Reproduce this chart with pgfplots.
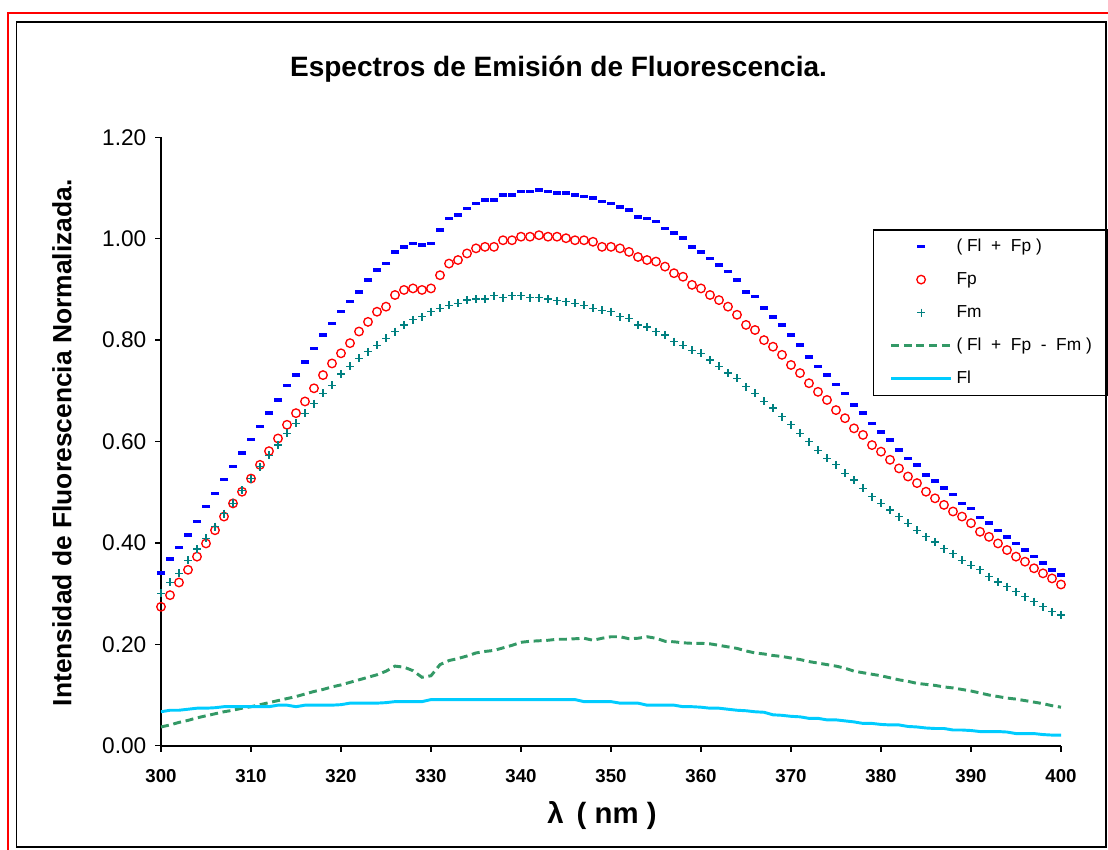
\documentclass[border=0pt]{standalone}
\usepackage{fontspec}
\setmainfont{Liberation Sans}
\usepackage{pgfplots}
\usepackage{pgfplotstable}
\pgfplotsset{compat=1.18}

\definecolor{cFlFp}{RGB}{0,0,255}
\definecolor{cFp}{RGB}{255,0,0}
\definecolor{cFm}{RGB}{0,128,128}
\definecolor{cDiff}{RGB}{51,153,102}
\definecolor{cFl}{RGB}{0,204,255}

% x = lambda (nm); columns: (Fl+Fp), Fp, Fm, (Fl+Fp-Fm), Fl
\pgfplotstableread{
x flfp fp fm diff fl
300 0.341 0.274 0.301 0.037 0.067
301 0.368 0.297 0.322 0.041 0.070
302 0.391 0.322 0.340 0.046 0.070
303 0.416 0.347 0.366 0.050 0.072
304 0.442 0.373 0.388 0.055 0.074
305 0.472 0.399 0.409 0.059 0.074
306 0.498 0.425 0.432 0.063 0.075
307 0.525 0.452 0.458 0.067 0.077
308 0.551 0.478 0.478 0.070 0.077
309 0.577 0.501 0.504 0.074 0.077
310 0.604 0.527 0.527 0.077 0.077
311 0.630 0.554 0.550 0.081 0.077
312 0.656 0.581 0.573 0.085 0.077
313 0.682 0.606 0.593 0.089 0.080
314 0.711 0.633 0.616 0.093 0.080
315 0.731 0.656 0.636 0.097 0.077
316 0.757 0.679 0.656 0.102 0.080
317 0.784 0.705 0.675 0.107 0.080
318 0.810 0.731 0.695 0.111 0.080
319 0.833 0.754 0.711 0.116 0.080
320 0.856 0.774 0.733 0.120 0.081
321 0.876 0.794 0.748 0.125 0.084
322 0.895 0.817 0.764 0.130 0.084
323 0.919 0.836 0.777 0.135 0.084
324 0.938 0.856 0.790 0.140 0.084
325 0.951 0.866 0.804 0.147 0.085
326 0.974 0.889 0.817 0.157 0.087
327 0.984 0.899 0.830 0.155 0.087
328 0.991 0.902 0.840 0.148 0.087
329 0.988 0.899 0.846 0.135 0.087
330 0.991 0.902 0.856 0.138 0.091
331 1.017 0.928 0.863 0.160 0.091
332 1.040 0.951 0.869 0.168 0.091
333 1.047 0.958 0.873 0.172 0.091
334 1.060 0.971 0.879 0.177 0.091
335 1.070 0.981 0.881 0.183 0.091
336 1.076 0.984 0.881 0.186 0.091
337 1.076 0.984 0.888 0.188 0.091
338 1.086 0.997 0.884 0.193 0.091
339 1.086 0.997 0.888 0.198 0.091
340 1.093 1.004 0.888 0.204 0.091
341 1.093 1.004 0.884 0.206 0.091
342 1.096 1.007 0.884 0.207 0.091
343 1.093 1.004 0.881 0.208 0.091
344 1.090 1.004 0.878 0.210 0.091
345 1.090 1.001 0.876 0.210 0.091
346 1.086 0.997 0.873 0.211 0.091
347 1.083 0.997 0.869 0.212 0.087
348 1.080 0.994 0.863 0.208 0.087
349 1.073 0.984 0.859 0.212 0.087
350 1.070 0.984 0.856 0.215 0.087
351 1.063 0.981 0.846 0.215 0.084
352 1.057 0.974 0.843 0.211 0.084
353 1.043 0.964 0.830 0.212 0.084
354 1.040 0.958 0.826 0.215 0.080
355 1.034 0.955 0.817 0.212 0.080
356 1.020 0.945 0.810 0.206 0.080
357 1.011 0.932 0.797 0.205 0.080
358 1.001 0.925 0.790 0.203 0.077
359 0.984 0.909 0.780 0.202 0.077
360 0.974 0.902 0.774 0.202 0.076
361 0.961 0.889 0.761 0.201 0.074
362 0.948 0.879 0.748 0.198 0.074
363 0.935 0.866 0.735 0.195 0.072
364 0.919 0.850 0.725 0.192 0.070
365 0.895 0.830 0.708 0.187 0.069
366 0.886 0.820 0.695 0.183 0.067
367 0.863 0.800 0.679 0.181 0.066
368 0.846 0.787 0.666 0.178 0.061
369 0.830 0.771 0.649 0.176 0.060
370 0.810 0.751 0.633 0.173 0.058
371 0.790 0.735 0.616 0.170 0.057
372 0.767 0.715 0.600 0.166 0.054
373 0.748 0.698 0.583 0.163 0.054
374 0.731 0.682 0.567 0.160 0.051
375 0.712 0.662 0.554 0.157 0.051
376 0.695 0.646 0.537 0.153 0.049
377 0.672 0.626 0.524 0.147 0.047
378 0.656 0.613 0.508 0.144 0.044
379 0.636 0.593 0.491 0.141 0.044
380 0.619 0.580 0.478 0.138 0.042
381 0.603 0.564 0.465 0.134 0.041
382 0.583 0.547 0.452 0.130 0.041
383 0.567 0.531 0.439 0.127 0.038
384 0.554 0.518 0.425 0.123 0.037
385 0.534 0.501 0.412 0.121 0.035
386 0.522 0.488 0.402 0.119 0.034
387 0.508 0.475 0.389 0.116 0.034
388 0.496 0.462 0.379 0.114 0.031
389 0.478 0.452 0.366 0.111 0.031
390 0.468 0.439 0.356 0.108 0.030
391 0.450 0.422 0.347 0.104 0.028
392 0.439 0.412 0.333 0.100 0.028
393 0.425 0.399 0.323 0.097 0.028
394 0.412 0.386 0.314 0.094 0.027
395 0.399 0.373 0.304 0.092 0.024
396 0.386 0.363 0.294 0.089 0.024
397 0.373 0.350 0.284 0.086 0.024
398 0.360 0.340 0.274 0.083 0.022
399 0.347 0.330 0.264 0.079 0.021
400 0.337 0.318 0.258 0.076 0.021
}\spectra

\begin{document}
\begin{tikzpicture}
% page is 1108x850 px at 0.75pt per px
\path[use as bounding box] (0,0) rectangle (831pt,637.5pt);
\fill[white] (0,0) rectangle (831pt,637.5pt);

\begin{axis}[
    at={(120.75pt,78.2pt)}, anchor=south west,
    scale only axis,
    width=675pt, height=456.3pt,
    xmin=300, xmax=400, ymin=0, ymax=1.2,
    xtick={300,310,...,400},
    ytick={0,0.2,...,1.2},
    axis lines*=left,
    axis line style={line width=1.2pt},
    tick style={black, line width=1.1pt},
    tick align=outside,
    major tick length=4.5pt,
    minor tick num=0,
    clip=false,
    /pgf/number format/assume math mode=true,
    yticklabel style={font=\fontsize{17}{20}\selectfont, xshift=-3pt,
        /pgf/number format/.cd, fixed, fixed zerofill, precision=2},
    xticklabel style={font=\fontsize{14}{17}\selectfont\bfseries, yshift=-10pt},
    title={Espectros de Emisión de Fluorescencia.},
    title style={font=\fontsize{21}{25}\selectfont\bfseries,
        at={(rel axis cs:0.4417,1.087)}, anchor=base},
    xlabel={λ\, ( nm )},
    xlabel style={font=\fontsize{22}{26}\selectfont\bfseries,
        at={(rel axis cs:0.49,-0.114)}, anchor=center},
    ylabel={Intensidad de Fluorescencia Normalizada.},
    ylabel style={font=\fontsize{19.8}{23}\selectfont\bfseries,
        at={(rel axis cs:-0.11,0.498)}, anchor=center},
    legend cell align=left,
    legend style={at={(rel axis cs:0.791,0.849)}, anchor=north west,
        draw=black, line width=1.1pt, fill=white,
        font=\fontsize{13}{16}\selectfont,
        inner xsep=12pt, inner ysep=6pt,
        row sep=11.75pt, column sep=3pt,
        nodes={inner sep=0pt, text height=10pt, text depth=3pt}},
    marklegend/.style={legend image code/.code={%
        \draw[##1] plot coordinates {(0pt,0pt)};}},
    linelegend/.style={legend image code/.code={%
        \draw[##1] (-22.5pt,0pt) -- (22.5pt,0pt);}},
]
\addplot[only marks, mark=-, mark size=3pt, mark options={line width=2.6pt}, color=cFlFp, marklegend]
    table[x=x, y=flfp] {\spectra};
\addlegendentry{( Fl\ \ +\ \ Fp )}
\addplot[only marks, mark=o, mark size=3.2pt, mark options={line width=1pt}, color=cFp, marklegend]
    table[x=x, y=fp] {\spectra};
\addlegendentry{Fp}
\addplot[only marks, mark=+, mark size=3pt, mark options={line width=0.9pt}, color=cFm, marklegend]
    table[x=x, y=fm] {\spectra};
\addlegendentry{Fm}
\addplot[no marks, color=cDiff, line width=2.2pt, dash pattern=on 6pt off 3.5pt, linelegend]
    table[x=x, y=diff] {\spectra};
\addlegendentry{( Fl\ \ +\ \ Fp\ \ -\ \ Fm )}
\addplot[no marks, color=cFl, line width=2.2pt, linelegend]
    table[x=x, y=fl] {\spectra};
\addlegendentry{Fl}
\end{axis}

% chart frames
\draw[red, line width=1.9pt] (6pt,-5pt) -- (6pt,627.75pt) -- (840pt,627.75pt);
\draw[black, line width=1.1pt] (12.2pt,2.3pt) rectangle (829.5pt,621pt);
\end{tikzpicture}
\end{document}
